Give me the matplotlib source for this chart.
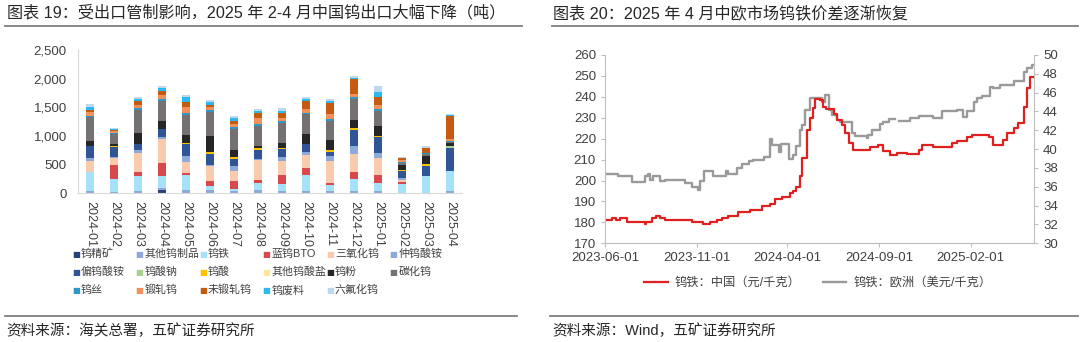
import pandas as pd
import matplotlib
matplotlib.use('Agg')
import matplotlib.pyplot as plt
import matplotlib.dates as mdates
from matplotlib.lines import Line2D

plt.rcParams['font.family'] = ['Liberation Sans', 'Noto Sans CJK SC', 'DejaVu Sans']

# ---- left chart: tungsten exports by product (tonnes) ----
months = ['2024-01', '2024-02', '2024-03', '2024-04', '2024-05', '2024-06', '2024-07', '2024-08',
          '2024-09', '2024-10', '2024-11', '2024-12', '2025-01', '2025-02', '2025-03', '2025-04']

products = ['钨精矿', '其他钨制品', '钨铁', '蓝钨BTO', '三氧化钨', '仲钨酸铵',
            '偏钨酸铵', '钨酸钠', '钨酸', '其他钨酸盐', '钨粉', '碳化钨',
            '钨丝', '锻轧钨', '未锻轧钨', '钨废料', '六氟化钨']

exports = {
    '钨精矿':   [0, 0, 0, 45, 0, 0, 0, 0, 0, 0, 0, 0, 0, 0, 0, 0],
    '其他钨制品': [30, 25, 35, 45, 60, 45, 30, 45, 35, 35, 35, 30, 35, 0, 0, 35],
    '钨铁':     [330, 215, 270, 210, 250, 70, 40, 130, 130, 275, 105, 215, 140, 165, 305, 350],
    '蓝钨BTO':  [15, 245, 60, 220, 40, 100, 135, 45, 150, 135, 35, 115, 140, 25, 0, 0],
    '三氧化钨':  [180, 120, 340, 420, 185, 250, 175, 350, 240, 215, 385, 325, 290, 45, 0, 0],
    '仲钨酸铵':  [55, 30, 45, 35, 115, 30, 100, 25, 70, 65, 80, 130, 95, 30, 0, 0],
    '偏钨酸铵':  [205, 165, 100, 140, 210, 195, 115, 165, 145, 125, 70, 290, 280, 115, 165, 405],
    '钨酸钠':   [0, 0, 0, 0, 0, 0, 0, 0, 0, 0, 0, 0, 0, 0, 0, 30],
    '钨酸':     [10, 15, 10, 10, 10, 30, 35, 30, 25, 10, 35, 25, 25, 30, 30, 10],
    '其他钨酸盐': [0, 0, 0, 0, 0, 0, 0, 0, 0, 0, 0, 0, 0, 0, 0, 0],
    '钨粉':     [90, 35, 195, 135, 145, 285, 130, 40, 80, 165, 185, 150, 165, 75, 145, 45],
    '碳化钨':   [410, 175, 390, 350, 345, 410, 360, 340, 350, 350, 335, 360, 265, 40, 30, 25],
    '钨丝':     [20, 30, 40, 30, 35, 30, 35, 30, 30, 30, 30, 30, 40, 25, 30, 15],
    '锻轧钨':   [70, 30, 60, 75, 100, 65, 60, 115, 60, 70, 90, 65, 65, 25, 0, 30],
    '未锻轧钨':  [30, 25, 60, 60, 90, 35, 50, 75, 75, 130, 185, 255, 135, 35, 90, 395],
    '钨废料':   [60, 10, 35, 55, 90, 40, 45, 45, 40, 35, 35, 20, 95, 0, 0, 25],
    '六氟化钨':  [50, 15, 40, 35, 30, 40, 40, 25, 60, 40, 40, 40, 95, 25, 30, 15],
}

colors = ['#264478', '#8fa8d8', '#a6e1fa', '#d9484c', '#f8cbad', '#8eaadb',
          '#2f5597', '#a9d18e', '#ffc000', '#ffe699', '#262626', '#767171',
          '#2e96c8', '#f4905a', '#c55a11', '#2cb9f0', '#bdd7ee']

# ---- right chart: ferrotungsten prices ----
cn_dates = ['2023-06-01', '2023-06-12', '2023-06-20', '2023-06-26', '2023-07-07', '2023-08-07',
            '2023-08-09', '2023-08-18', '2023-08-26', '2023-09-01', '2023-09-09', '2023-10-24',
            '2023-11-12', '2023-11-24', '2023-12-05', '2023-12-13', '2023-12-24', '2024-01-10',
            '2024-01-29', '2024-02-18', '2024-03-03', '2024-03-11', '2024-03-22', '2024-04-05',
            '2024-04-11', '2024-04-16', '2024-04-22', '2024-04-26', '2024-05-04', '2024-05-09',
            '2024-05-13', '2024-05-17', '2024-05-25', '2024-05-31', '2024-06-05', '2024-06-17',
            '2024-06-22', '2024-07-01', '2024-07-06', '2024-07-12', '2024-07-19', '2024-08-17',
            '2024-08-31', '2024-09-08', '2024-09-20', '2024-10-01', '2024-10-18', '2024-11-06',
            '2024-11-12', '2024-12-01', '2025-01-01', '2025-01-09', '2025-01-26', '2025-02-03',
            '2025-03-03', '2025-03-11', '2025-03-28', '2025-04-03', '2025-04-14', '2025-04-22',
            '2025-05-02', '2025-05-06', '2025-05-12', '2025-05-17']
cn_price = [181, 182, 181, 182, 180, 179, 180, 182, 183, 182, 181, 180,
            179, 180, 181, 182, 183, 185, 186, 188, 189, 191, 192, 194,
            195, 197, 202, 211, 224, 230, 234.5, 239, 238.5, 235, 234, 232,
            229, 226.5, 222.5, 218, 214.6, 216, 217, 214, 212, 213, 212.7, 214.6,
            217, 216, 218, 219, 220.7, 221.8, 220.7, 217, 219.5, 222.5, 225, 227.7,
            235, 244, 249.6, 249.6]

eu_dates = ['2023-06-01', '2023-06-23', '2023-07-16', '2023-08-07', '2023-08-12', '2023-08-15',
            '2023-08-21', '2023-09-01', '2023-09-09', '2023-10-13', '2023-10-24', '2023-11-04',
            '2023-11-07', '2023-11-14', '2023-11-29', '2023-12-21', '2023-12-24', '2024-01-07',
            '2024-01-16', '2024-01-27', '2024-02-04', '2024-02-21', '2024-03-03', '2024-03-06',
            '2024-03-17', '2024-03-21', '2024-04-03', '2024-04-11', '2024-04-16', '2024-04-22',
            '2024-04-25', '2024-04-30', '2024-05-08', '2024-05-29', '2024-06-03', '2024-06-09',
            '2024-06-14', '2024-06-22', '2024-06-28', '2024-07-17', '2024-07-23', '2024-08-12',
            '2024-08-14', '2024-08-20', '2024-09-03', '2024-09-08', '2024-09-17', '2024-09-28',
            '2024-10-04', '2024-10-23', '2024-11-06', '2024-12-01', '2024-12-15', '2025-01-09',
            '2025-01-20', '2025-01-26', '2025-02-06', '2025-02-12', '2025-02-20', '2025-03-06',
            '2025-03-11', '2025-03-23', '2025-04-14', '2025-05-01', '2025-05-06', '2025-05-15',
            '2025-05-17']
eu_price = [37.4, 37.1, 36.5, 37.1, 37.4, 36.7, 37.2, 36.6, 36.7, 36.4, 36.0, 35.7,
            36.6, 37.7, 37.2, 37.7, 37.4, 38.0, 38.4, 38.7, 38.85, 39.2, 41.1, 40.4,
            39.7, 40.6, 39.0, 39.4, 40.3, 42.0, 42.6, 44.2, 45.4, 45.0, 45.75, 44.2,
            43.6, 43.1, 42.9, 41.7, 41.4, 41.15, 41.5, 42.0, 42.7, 42.9, 43.2, None,
            43.0, 43.3, 43.5, 43.3, 44.0, 44.2, 43.45, 44.0, 45.0, 45.4, 45.6, 46.6,
            46.5, 46.8, 47.2, 48.2, 48.6, 48.9, 48.9]

cn = pd.Series(cn_price, index=pd.to_datetime(cn_dates), dtype=float)
eu = pd.Series(eu_price, index=pd.to_datetime(eu_dates), dtype=float)

W, H = 1080, 342
fig = plt.figure(figsize=(W / 100, H / 100), dpi=100)
txt = '#404040'
axc = '#bfbfbf'
cjk = ['Liberation Sans', 'Noto Sans CJK SC']


def px(x, y):
    return x / W, 1 - y / H


# titles and rules
fig.text(*px(7, 13), '图表 19：受出口管制影响，2025 年 2-4 月中国钨出口大幅下降（吨）',
         fontsize=11.6, color='#262626', va='center', family=cjk)
fig.text(*px(553, 13), '图表 20：2025 年 4 月中欧市场钨铁价差逐渐恢复',
         fontsize=11.6, color='#262626', va='center', family=cjk)
for x0, x1, y in [(5, 522, 26), (552, 1078, 26), (5, 517, 316), (550, 1078, 316)]:
    fig.add_artist(Line2D([x0 / W, x1 / W], [1 - y / H] * 2, color='#7f7f7f', lw=1.3))
fig.text(*px(6, 331), '资料来源：海关总署，五矿证券研究所', fontsize=10.5, color='#262626',
         va='center', family=cjk)
fig.text(*px(552, 331), '资料来源：Wind，五矿证券研究所', fontsize=10.5, color='#262626',
         va='center', family=cjk)

# ---- left: stacked bars ----
ax1 = fig.add_axes([78 / W, 1 - 193 / H, 384 / W, 143 / H])
bottom = [0] * len(months)
x = range(len(months))
for name, c in zip(products, colors):
    vals = exports[name]
    ax1.bar(x, vals, width=0.36, bottom=bottom, color=c, linewidth=0)
    bottom = [b + v for b, v in zip(bottom, vals)]
ax1.set_xlim(-0.5, len(months) - 0.5)
ax1.set_ylim(0, 2500)
ax1.set_yticks(range(0, 2501, 500))
ax1.set_yticklabels(['{:,}'.format(v) for v in range(0, 2501, 500)])
ax1.set_xticks(list(x))
ax1.set_xticklabels(months, rotation=-90)
ax1.tick_params(axis='y', length=0, labelsize=9.5, labelcolor=txt, pad=8)
ax1.tick_params(axis='x', length=0, labelsize=9, labelcolor=txt, pad=6)
for s in ['top', 'right']:
    ax1.spines[s].set_visible(False)
for s in ['left', 'bottom']:
    ax1.spines[s].set_color('#d9d9d9')

# legend grid (6 columns x 3 rows)
for i, (name, c) in enumerate(zip(products, colors)):
    col, row = i % 6, i // 6
    lx = 76 + col * 63.5
    ly = 254 + row * 18
    fig.text(*px(lx, ly), '■', color=c, fontsize=6, va='center', ha='center',
             family=['DejaVu Sans'])
    fig.text(*px(lx + 5, ly), name, color=txt, fontsize=7.9, va='center', family=cjk)

# ---- right: price lines ----
ax2 = fig.add_axes([605 / W, 1 - 243.3 / H, 429 / W, 188.3 / H])
ax3 = ax2.twinx()
l1, = ax2.plot(cn.index, cn.values, drawstyle='steps-post', color='#e0201f', lw=1.6,
               label='钨铁：中国（元/千克）')
l2, = ax3.plot(eu.index, eu.values, drawstyle='steps-post', color='#9a9a9a', lw=1.7,
               label='钨铁：欧洲（美元/千克）')
ax2.set_zorder(ax3.get_zorder() + 1)
ax2.patch.set_visible(False)
ax2.set_ylim(170, 260)
ax2.set_yticks(range(170, 261, 10))
ax3.set_ylim(30, 50)
ax3.set_yticks(range(30, 51, 2))
ax2.set_xlim(pd.Timestamp('2023-06-01'), pd.Timestamp('2025-05-18'))
ax2.set_xticks(pd.to_datetime(['2023-06-01', '2023-11-01', '2024-04-01', '2024-09-01', '2025-02-01']))
ax2.xaxis.set_major_formatter(mdates.DateFormatter('%Y-%m-%d'))
for a in (ax2, ax3):
    a.tick_params(labelsize=9.5, labelcolor=txt, color=axc, length=3)
    a.spines['top'].set_visible(False)
    for s in ['left', 'right', 'bottom']:
        a.spines[s].set_color(axc)
ax3.spines['left'].set_visible(False)
ax2.spines['right'].set_visible(False)

leg = fig.legend(handles=[l1, l2], loc='center', bbox_to_anchor=(818 / W, 1 - 283 / H),
                 ncol=2, frameon=False, handlelength=1.9, handletextpad=0.6,
                 columnspacing=1.8, prop={'family': cjk, 'size': 8.8})
for t in leg.get_texts():
    t.set_color(txt)

fig.savefig('out.png', dpi=100)
